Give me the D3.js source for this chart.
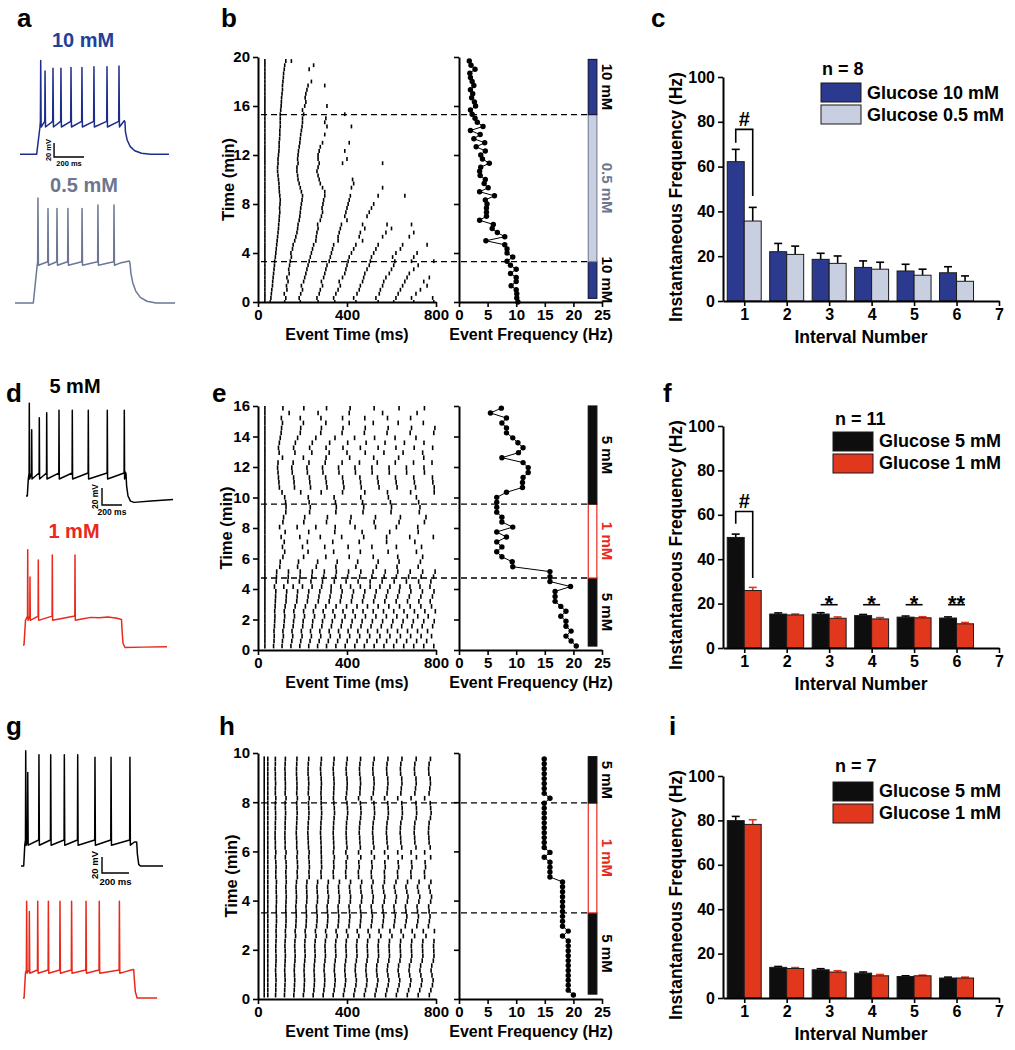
<!DOCTYPE html>
<html><head><meta charset="utf-8">
<script src="https://cdn.jsdelivr.net/npm/d3@7/dist/d3.min.js"></script>
<style>
html,body{margin:0;padding:0;background:#fff;}
svg text{font-family:"Liberation Sans",Arial,Helvetica,sans-serif;font-weight:bold;}
</style></head>
<body>
<svg id="fig" width="1015" height="1050" viewBox="0 0 1015 1050"></svg>
<script>
// ======================= DATA =======================
const panelLetters = ['a','b','c','d','e','f','g','h','i'];

// --- voltage traces (ms, mV) ---
const traceA10 = {on:111, rise:22, base:-70, trough:-31, pre:-23,
  spikes:[[138,64],[167,49],[220,53],[273,53],[340,54],[413,54],[493,55],[580,55],[660,56]],
  after:[[695,-22],[700,-24],[703,-38],[715,-50],[735,-59],[765,-65],[810,-68.5],[870,-70],[993,-70]]};
const traceA05 = {on:122, rise:26, base:-70, trough:-16, pre:-11,
  spikes:[[153,80],[220,65],[280,65],[353,65],[447,65],[553,70],[660,70]],
  after:[[700,-13],[740,-11],[762,-10],[767,-14],[773,-28],[785,-41],[805,-53],[835,-62],[880,-67.5],[940,-70],[1067,-70]]};
const traceD5 = {on:13, rise:10, base:-70, trough:-50, pre:-43,
  spikes:[[33,39],[57,8],[133,22],[207,28],[330,31],[463,31],[623,31],[813,31],[983,31]],
  after:[[995,-42],[1000,-44],[1006,-58],[1020,-70],[1045,-76],[1080,-77.5],[1250,-76],[1470,-74]]};
const traceD1 = {on:10, rise:15, base:-70, trough:-41, pre:-36,
  spikes:[[47,42],[70,10],[153,30],[293,36],[520,36]],
  after:[[600,-39],[680,-37.5],[760,-38],[850,-37],[940,-38.5],[985,-40],[992,-55],[1000,-68],[1020,-73],[1200,-72.5],[1440,-72]]};
const traceG5 = {on:20, rise:8, base:-70, trough:-44, pre:-37.5,
  spikes:[[35,74],[50,47],[133,69],[220,69],[321,69],[420,69],[548,66],[667,66],[807,66]],
  after:[[840,-40],[857,-40],[862,-55],[872,-68],[885,-70],[1052,-70]]};
const traceG1 = {on:8, rise:10, base:-70, trough:-39, pre:-35,
  spikes:[[27,51],[47,38],[109,51],[188,51],[274,51],[360,51],[467,51],[565,51],[714,51]],
  after:[[760,-37],[800,-35],[820,-34.5],[824,-45],[832,-62],[845,-70],[993,-70]]};
const traceLabelsTop = ['10 mM','0.5 mM','5 mM','1 mM'];
const scaleBarValues = {ms:200, mv:20};
const scaleBarLabels = ['20 mV','200 ms'];

// --- panel b : sweeps [time (min), event frequency (Hz)] and spike times (ms) ---
const freqB = [[0,10.3],[0.33,10.1],[0.67,10.1],[1,10.0],[1.33,9.1],[1.67,10.0],[2,10.0],[2.33,9.0],[2.67,10.0],[3,9.0],
[3.33,8.4],[3.67,9.4],[4,8.4],[4.33,8.4],[4.67,8.0],[5,4.7],[5.33,8.0],[5.67,6.7],[6,5.8],[6.33,6.0],
[6.67,3.6],[7,4.8],[7.33,4.8],[7.67,4.8],[8,4.9],[8.33,4.6],[8.67,6.2],[9,3.6],[9.33,5.1],[9.67,4.4],
[10,4.6],[10.33,3.7],[10.67,3.6],[11,3.8],[11.33,5.3],[11.67,4.1],[12,3.8],[12.33,4.6],[12.67,3.0],[13,4.5],
[13.33,2.6],[13.67,3.7],[14,2.0],[14.33,4.2],[14.67,3.2],[15,2.8],[15.33,2.3],[15.67,2.0],[16,2.9],[16.33,2.7],
[16.67,2.2],[17,2.4],[17.33,2.0],[17.67,2.6],[18,2.3],[18.33,2.0],[18.67,1.9],[19,2.8],[19.33,2.1],[19.67,1.8]];
const rasterB = [
[31,55,120,190,270,345,440,540,610,700,790],[31,58,125,185,265,340,430,530,620,690,785],[31,60,118,192,275,350,445,545,630,710],
[31,62,130,200,280,360,455,550,640,730],[31,65,128,195,290,370,460,560,650,760],[31,66,135,205,285,365,470,565,660,745],
[31,68,130,210,295,380,475,575,670,770],[31,70,140,215,300,390,480,590,680],[31,72,138,220,305,395,490,600,700],
[31,74,142,225,310,400,500,610,720],[31,75,145,230,320,405,505,615,690,790],[31,78,150,235,325,410,510,605,700],
[31,80,148,240,330,420,520,620,715],[31,82,155,245,335,430,530,640],[31,84,158,250,340,440,540,650,760],
[31,86,165,260,360,470],[31,88,170,262,360,455,560,680],[31,90,175,265,365,460,575,700],[31,92,178,270,370,480,600],
[31,93,180,268,375,470,580,690],[31,95,185,280,400],[31,96,188,285,390,490],[31,98,190,290,395,500],
[31,97,192,288,400,510],[31,99,195,292,405,520],[31,100,198,295,410],[31,98,200,300,415,540,660],[31,96,195,300],
[31,95,190,290,420,560],[31,94,185,280,430],[31,92,180,275,425],[31,90,178,270],[31,88,175,265],[31,88,175,270],
[31,90,180,275,380,560],[31,90,178,270,400],[31,92,180,270],[31,94,182,275,390],[31,95,185,280],[31,95,188,290,410],
[31,97,190],[31,98,192,300],[31,98,195],[31,100,198,310,420],[31,100,200,300],[31,100,200,305],[31,100,205,390],
[31,102,200],[31,104,210,310],[31,105,215],[31,106,212],[31,108,215],[31,110,220],[31,110,225,300],[31,112,240],
[31,114],[31,115],[31,118,230],[31,120,250],[31,125,150]];
const switchB = [3.3, 15.3];
const segB = [[0.3,3.3,'10 mM'],[3.3,15.3,'0.5 mM'],[15.3,19.8,'10 mM']];

// --- panel e ---
const freqE = [[0.26,20.5],[0.59,19.6],[0.91,18.7],[1.24,19.6],[1.56,18.7],[1.89,18.7],[2.21,17.8],[2.54,18.7],[2.86,17.8],[3.19,16.8],
[3.51,16.8],[3.84,16.8],[4.16,19.5],[4.49,15.9],[4.81,15.9],[5.14,15.9],[5.46,9.4],[5.79,9.3],[6.11,7.5],[6.44,6.6],
[6.76,7.5],[7.09,6.6],[7.41,8.3],[7.74,6.6],[8.06,9.4],[8.39,7.5],[8.71,7.5],[9.04,6.6],[9.36,6.6],[9.69,6.6],
[10.01,6.6],[10.34,8.3],[10.66,11.1],[10.99,11.1],[11.31,11.2],[11.64,12.1],[11.96,12.1],[12.29,11.2],[12.61,7.5],[12.94,10.4],
[13.26,11.2],[13.59,10.3],[13.91,9.4],[14.24,8.3],[14.56,8.3],[14.89,7.5],[15.21,8.3],[15.54,5.5],[15.86,7.4]];
const rasterE = [
[31,70,108,148,188,228,268,308,350,392,435,478,522,566,610,655,700,745,790],
[31,72,110,152,192,234,275,316,358,401,445,490,534,578,623,668,713,758],
[31,73,114,156,198,240,282,325,368,412,457,502,548,593,640,686,733,780],
[31,72,112,153,195,236,278,320,362,405,449,493,537,582,627,672,717,762],
[31,74,116,158,201,244,287,330,374,418,463,508,554,600,646,692,738,785],
[31,75,118,160,203,246,290,334,378,423,468,514,560,606,652,698,745,792],
[31,76,120,164,209,254,299,345,391,437,483,530,577,624,671,718,765],
[31,75,118,161,205,249,293,337,382,427,472,518,564,610,656,703,750,797],
[31,77,122,167,213,259,305,351,398,445,492,540,588,636,684,732,780],
[31,78,126,174,222,271,320,370,420,470,520,570,621,672,723,774],
[31,79,127,176,225,274,324,374,424,475,526,577,628,680,732,784],
[31,80,129,178,228,278,328,378,429,480,531,583,635,687,739,791],
[31,74,116,158,200,243,286,329,372,416,460,504,548,593,638,683,728,773],
[31,82,134,186,238,290,343,396,450,504,558,612,667,722,777],
[31,83,136,189,242,295,349,403,457,512,567,622,677,733,789],
[31,84,137,190,244,298,352,407,462,517,572,628,684,740,796],
[31,98,178,262,350,440,532,625,720],
[31,100,182,268,356,448,540,634,730],
[31,112,205,305,410,518,628,740],
[31,120,225,340,460,585,712],
[31,110,200,300,405,512,622,735],
[31,118,222,336,455,578,705],
[31,104,188,280,376,475,578,682,788],
[31,122,228,345,468,592,720],
[31,97,176,260,347,436,528,622,718],
[31,112,206,308,414,522,634,748],
[31,115,210,312,418,528,640,755],
[31,125,232,350,472,598,725],
[31,126,235,352,475,600,728],
[31,124,230,348,470,595,722],
[31,120,226,342,462,586,712],
[31,108,192,284,380,480,582,686,792],
[31,96,164,236,310,386,464,544,625,708,792],
[31,94,162,233,307,383,461,540,621,703,786],
[31,92,160,231,304,380,458,537,618,700,784],
[31,90,154,222,292,364,438,513,590,668,748],
[31,88,152,220,290,362,436,512,589,667,746],
[31,90,158,229,302,378,456,536,617,699,782],
[31,110,204,306,412,520,632,745],
[31,95,166,242,320,400,482,566,652,740],
[31,92,160,232,306,382,460,540,620,702,785],
[31,96,168,244,322,403,486,571,658,746],
[31,100,178,260,346,434,524,616,710],
[31,104,190,282,378,478,580,684,790],
[31,106,192,285,382,482,585,690,795],
[31,110,204,305,410,518,630,743],
[31,105,190,283,380,480,582,686],
[31,140,270,410,560,715],
[31,112,206,308,414,522,634,748]];
const switchE = [4.72, 9.57];
const segE = [[0.26,4.72,'5 mM'],[4.72,9.57,'1 mM'],[9.57,16,'5 mM']];

// --- panel h ---
const freqH = [[0.16,20.0],[0.36,19.1],[0.56,19.1],[0.76,19.1],[0.96,19.1],[1.16,19.1],[1.36,19.1],[1.56,19.1],[1.76,19.1],[1.96,19.1],
[2.16,19.1],[2.36,19.1],[2.56,18.1],[2.76,19.1],[2.96,18.1],[3.16,18.1],[3.36,18.1],[3.56,18.1],[3.76,18.1],[3.96,18.1],
[4.16,18.1],[4.36,18.1],[4.56,18.1],[4.76,18.1],[4.96,15.9],[5.16,15.9],[5.36,15.9],[5.56,15.9],[5.76,14.9],[5.96,15.9],
[6.16,14.9],[6.36,14.9],[6.56,14.9],[6.76,14.9],[6.96,14.9],[7.16,14.9],[7.36,14.9],[7.56,14.9],[7.76,14.9],[7.96,14.9],
[8.16,15.9],[8.36,14.9],[8.56,14.9],[8.76,14.9],[8.96,14.9],[9.16,14.9],[9.36,14.9],[9.56,14.9],[9.76,14.9]];
const rasterH = [
[28,44,79,119,161,204,248,293,338,384,431,478,526,574,622,671,720,770],
[28,44,80,120,163,207,251,296,342,388,435,483,531,579,628,677,727,777],
[28,44,80,121,164,208,253,299,345,392,440,488,536,585,634,684,734,784],
[28,44,81,122,165,209,254,300,347,394,442,490,539,588,637,687,737,787],
[28,44,80,121,164,208,253,299,345,392,439,487,535,584,633,682,732,782],
[28,44,79,120,163,207,252,297,343,390,437,485,533,581,630,679,728,778],
[28,44,80,121,164,208,253,298,344,391,438,486,534,583,632,681,731,781],
[28,44,81,122,166,210,255,301,347,394,442,490,539,588,638,688,738,788],
[28,44,81,123,167,212,257,303,350,397,445,493,542,591,641,691,741,791],
[28,44,80,122,166,211,256,302,349,396,444,492,541,590,640,690,740,790],
[28,44,80,121,165,210,255,301,348,395,443,491,540,589,639,689,739,789],
[28,44,81,122,166,211,257,303,350,397,445,493,542,591,641,691,741,791],
[28,44,82,124,169,214,261,308,356,404,453,502,552,602,653,704,755],
[28,44,81,123,167,212,258,304,351,398,446,495,544,593,643,693,743,793],
[28,44,82,125,170,216,263,311,360,409,459,509,560,611,662,714,766],
[28,44,83,126,171,217,265,313,362,411,461,512,563,614,666,718,770],
[28,44,83,126,172,218,266,314,363,413,463,514,565,617,669,721,773],
[28,44,82,125,171,217,264,312,361,411,461,511,562,613,665,717,769],
[28,44,82,125,170,216,263,311,360,409,459,509,560,611,663,715,767],
[28,44,83,126,172,219,267,315,365,415,465,516,567,619,671,723,776],
[28,44,83,127,173,220,268,317,366,416,467,518,570,622,674,727,780],
[28,44,82,126,172,219,266,314,363,413,463,514,565,617,669,721,774],
[28,44,82,125,171,218,265,313,362,411,461,511,562,613,665,717,769],
[28,44,83,127,173,220,268,316,366,416,466,517,568,620,672,724,777],
[28,44,80,126,177,230,284,339,395,452,510,569,628,688,749],
[28,44,80,125,176,229,283,338,394,451,509,568,627,687,748],
[28,44,81,127,178,231,286,341,397,455,513,572,632,692,753],
[28,44,80,126,177,230,285,340,396,453,511,570,630,690,751],
[28,44,78,123,175,228,285,343,402,462,523,585,648,712,776],
[28,44,80,126,177,230,284,339,395,452,510,569,628,688,749],
[28,44,78,122,174,227,284,341,400,460,521,583,646,710,774],
[28,44,78,122,174,226,283,340,398,458,518,580,642,705,769],
[28,44,77,121,173,225,282,339,397,457,517,579,641,704,768],
[28,44,77,121,172,224,281,338,396,455,515,577,639,702,766],
[28,44,78,122,173,225,282,339,397,456,516,578,640,703,767],
[28,44,78,122,174,226,283,340,398,458,518,580,642,705,769],
[28,44,79,123,175,228,285,342,401,461,522,584,647,711,775],
[28,44,79,124,176,229,286,344,403,463,524,586,649,713,778],
[28,44,78,123,175,228,285,343,402,462,523,585,648,712,776],
[28,44,78,122,174,227,284,341,400,460,521,583,646,710,774],
[28,44,80,126,177,230,284,339,395,452,510,569,628,688,749],
[28,44,78,122,174,226,283,340,398,458,518,580,642,705,769],
[28,44,78,123,175,227,284,341,400,459,520,582,644,708,772],
[28,44,79,123,175,228,285,342,401,461,522,584,647,711,775],
[28,44,78,122,174,227,284,341,400,460,521,583,646,710,774],
[28,44,78,122,173,225,282,339,397,457,517,579,641,704,768],
[28,44,77,121,173,225,281,338,396,456,516,578,640,703,767],
[28,44,78,122,174,226,283,340,398,458,518,580,642,705,769],
[28,44,78,123,175,228,285,342,401,461,522,584,647,711,775]];
const switchH = [3.5, 7.97];
const segH = [[0.2,3.5,'5 mM'],[3.5,7.97,'1 mM'],[7.97,9.85,'5 mM']];

const rasterXTicks = [0,400,800];
const freqXTicks = [0,5,10,15,20,25];
const timeTicksB = [0,4,8,12,16,20];
const timeTicksE = [0,2,4,6,8,10,12,14,16];
const timeTicksH = [0,2,4,6,8,10];

// --- bar charts: mean instantaneous frequency (Hz) with SEM ---
const intervals = [1,2,3,4,5,6];
const barXTicks = [1,2,3,4,5,6,7];
const barYTicks = [0,20,40,60,80,100];
const c10 = [62.2,22.0,18.6,15.0,13.4,12.6], c10err = [5.5,3.7,2.7,2.9,3.0,2.7];
const c05 = [35.7,20.8,16.8,14.2,11.5,8.8],  c05err = [6.1,3.7,3.3,3.1,2.7,2.4];
const f5  = [49.8,15.3,15.3,14.6,13.9,13.5], f5err  = [1.5,0.5,0.6,0.5,0.5,0.5];
const f1  = [25.9,14.9,13.4,13.1,13.6,10.9], f1err  = [1.4,0.4,0.6,0.6,0.5,0.6];
const i5  = [79.9,13.8,12.7,11.2,9.7,9.0],   i5err  = [1.9,0.4,0.5,0.5,0.3,0.4];
const i1  = [78.2,13.3,11.7,10.0,10.0,9.0],  i1err  = [2.1,0.4,0.6,0.6,0.3,0.4];
const legendC = ['Glucose 10 mM','Glucose 0.5 mM'], nC = 'n = 8';
const legendF = ['Glucose 5 mM','Glucose 1 mM'],    nF = 'n = 11';
const legendI = ['Glucose 5 mM','Glucose 1 mM'],    nI = 'n = 7';
const bracketC = {k:1, top:76.6, left:70.7, right:46.9, label:'#'};
const bracketF = {k:1, top:61.5, left:56.0, right:31.5, label:'#'};
const starsF = [[3,19.5,'*'],[4,19.5,'*'],[5,19.5,'*'],[6,19.5,'**']];

// ======================= STYLE / LAYOUT =======================
const COL = {navy:'#2b3a8f', light:'#c8cfe1', blk:'#0e0e0e', red:'#e0371d', redTrace:'#e8291c',
  blueTrace:'#1e2d8c', grayTrace:'#6c7793', blueText:'#22409a', grayText:'#6d7690'};
const letterPos = [[17,27],[221,27],[651,27],[6,402],[212,402],[663,402],[6,735],[219,735],[669,735]];
const segStyle = {
  b:[{fill:COL.navy,stroke:'#161a40',label:'#000'},{fill:COL.light,stroke:'#7d869c',label:COL.grayText},{fill:COL.navy,stroke:'#161a40',label:'#000'}],
  e:[{fill:COL.blk,stroke:COL.blk,label:'#000'},{fill:'#fff',stroke:COL.redTrace,label:COL.redTrace},{fill:COL.blk,stroke:COL.blk,label:'#000'}]
};
segStyle.h = segStyle.e;

// ======================= DRAWING =======================
const svg = d3.select('#fig');
svg.append('rect').attr('width',1015).attr('height',1050).attr('fill','#fff');

function txt(x,y,s,size,o={}){
  const t = svg.append('text').attr('x',x).attr('y',y).text(s).attr('font-size',size)
    .attr('text-anchor',o.anchor||'start').attr('fill',o.fill||'#000');
  if(o.rotate!==undefined) t.attr('transform',`rotate(${o.rotate},${x},${y})`);
  return t;
}
function styleAxis(g,fs){
  g.selectAll('.domain').attr('stroke','#000').attr('stroke-width',2);
  g.selectAll('.tick line').attr('stroke','#000').attr('stroke-width',1.6);
  g.selectAll('.tick text').attr('font-size',fs).attr('fill','#000')
   .attr('font-family','"Liberation Sans",Arial,sans-serif').attr('font-weight','bold');
}

// panel letters
panelLetters.forEach((l,i)=>txt(letterPos[i][0],letterPos[i][1],l,26));

// traces
function traceVertices(s){
  const v=[[0,s.base],[s.on,s.base],[s.on+s.rise,s.trough]];
  s.spikes.forEach(([t,pk])=>{v.push([t-2,s.pre],[t,pk],[t+3,s.trough]);});
  s.after.forEach(p=>v.push(p));
  return v;
}
function drawTrace(spec,L,color){
  const x=d3.scaleLinear().domain([0,1000]).range([L.x0,L.x0+1000*L.pxMs]);
  const y=d3.scaleLinear().domain([-70,30]).range([L.yb,L.yb-100*L.pxMv]);
  svg.append('path').attr('d',d3.line().x(d=>x(d[0])).y(d=>y(d[1]))(traceVertices(spec)))
    .attr('fill','none').attr('stroke',color).attr('stroke-width',1.5).attr('stroke-linejoin','round');
  return {x,y};
}
function drawScaleBar(sc,at,fs,lab){
  const x0=sc.x(at[0]), y0=sc.y(at[1]);
  const x1=sc.x(at[0]+scaleBarValues.ms), yTop=sc.y(at[1]+scaleBarValues.mv);
  svg.append('path').attr('d',`M${x0},${yTop}V${y0}H${x1}`).attr('fill','none').attr('stroke','#000').attr('stroke-width',1.4);
  txt(x0-lab[0],(y0+yTop)/2,scaleBarLabels[0],fs,{anchor:'middle',rotate:-90});
  txt((x0+x1)/2,y0+lab[1],scaleBarLabels[1],fs,{anchor:'middle'});
}
const sA1=drawTrace(traceA10,{x0:20,yb:154.3,pxMs:0.15,pxMv:0.7},COL.blueTrace);
drawTrace(traceA05,{x0:15,yb:303,pxMs:0.15,pxMv:0.7},COL.grayTrace);
drawScaleBar(sA1,[227,-73.9],7.5,[3.5,9]);
txt(83,47,traceLabelsTop[0],20,{anchor:'middle',fill:COL.blueText});
txt(84,192,traceLabelsTop[1],20,{anchor:'middle',fill:COL.grayText});

const sD=drawTrace(traceD5,{x0:26,yb:496,pxMs:0.1,pxMv:0.85},'#000');
drawTrace(traceD1,{x0:23,yb:645,pxMs:0.1,pxMv:0.85},COL.redTrace);
drawScaleBar(sD,[760,-80.6],8.5,[3.5,10]);
txt(75,393,traceLabelsTop[2],20,{anchor:'middle'});
txt(74,538,traceLabelsTop[3],20,{anchor:'middle',fill:COL.redTrace});

const sG=drawTrace(traceG5,{x0:21,yb:866,pxMs:0.135,pxMv:0.8},'#000');
drawTrace(traceG1,{x0:23,yb:998,pxMs:0.135,pxMv:0.8},COL.redTrace);
drawScaleBar(sG,[600,-78.75],9.5,[4.5,12]);

// raster + frequency panels
function drawRasterPanel(freq,raster,yMax,yTicks,switches,segs,styles,L){
  const y=d3.scaleLinear().domain([0,yMax]).range([L.y0,L.y1]);
  const xR=d3.scaleLinear().domain([0,800]).range([258,436]);
  const xF=d3.scaleLinear().domain([0,25]).range([459,602]);
  const dt=(freq[freq.length-1][0]-freq[0][0])/(freq.length-1);
  const g=svg.append('g');
  raster.forEach((sw,i)=>{
    const t=freq[i][0];
    sw.forEach((s,j)=>{
      const h=j===0?0.52:0.47;
      const a=Math.max(0,t-dt*h), b=Math.min(yMax,t+dt*h);
      g.append('line').attr('x1',xR(s)).attr('x2',xR(s)).attr('y1',y(a)).attr('y2',y(b))
        .attr('stroke','#000').attr('stroke-width',1.6);
    });
  });
  // solution bar
  const barLo=22.6, barHi=24.1;
  segs.forEach((sg,i)=>{
    const st=styles[i];
    svg.append('rect').attr('x',xF(barLo)).attr('width',xF(barHi)-xF(barLo))
      .attr('y',y(sg[1])).attr('height',y(sg[0])-y(sg[1]))
      .attr('fill',st.fill).attr('stroke',st.stroke).attr('stroke-width',1.2);
    txt(607,(y(sg[0])+y(sg[1]))/2,sg[2],15,{anchor:'middle',rotate:90,fill:st.label}).attr('dy','0.35em');
  });
  // dashed switch lines
  switches.forEach(t=>{
    svg.append('line').attr('x1',xR(0)+3).attr('x2',xF(barLo)).attr('y1',y(t)).attr('y2',y(t))
      .attr('stroke','#000').attr('stroke-width',1.3).attr('stroke-dasharray','6,4');
  });
  // freq line + dots
  svg.append('path').attr('d',d3.line().x(d=>xF(d[1])).y(d=>y(d[0]))(freq))
    .attr('fill','none').attr('stroke','#000').attr('stroke-width',1);
  svg.append('g').selectAll('circle').data(freq).join('circle')
    .attr('cx',d=>xF(d[1])).attr('cy',d=>y(d[0])).attr('r',2.7).attr('fill','#000');
  // axes
  const ay=svg.append('g').attr('transform','translate(258,0)')
    .call(d3.axisLeft(y).tickValues(yTicks).tickSize(5).tickSizeOuter(0).tickPadding(3));
  styleAxis(ay,15);
  const ax=svg.append('g').attr('transform',`translate(0,${L.y0})`)
    .call(d3.axisBottom(xR).tickValues(rasterXTicks).tickSize(5).tickSizeOuter(0).tickPadding(2));
  styleAxis(ax,15);
  const fy=svg.append('g').attr('transform','translate(459,0)')
    .call(d3.axisLeft(y).tickValues(yTicks).tickSize(5).tickSizeOuter(0).tickFormat(''));
  styleAxis(fy,15);
  const fx=svg.append('g').attr('transform',`translate(0,${L.y0})`)
    .call(d3.axisBottom(xF).tickValues(freqXTicks).tickSize(5).tickSizeOuter(0).tickPadding(2));
  styleAxis(fx,15);
  txt(L.tx,(L.y0+L.y1)/2,'Time (min)',16.5,{anchor:'middle',rotate:-90}).attr('dy','0.35em');
  txt(347,L.y0+38,'Event Time (ms)',16,{anchor:'middle'});
  txt(531,L.y0+38,'Event Frequency (Hz)',16,{anchor:'middle'});
}
drawRasterPanel(freqB,rasterB,20,timeTicksB,switchB,segB,segStyle.b,{y0:302,y1:57,tx:228});
drawRasterPanel(freqE,rasterE,16,timeTicksE,switchE,segE,segStyle.e,{y0:650,y1:406,tx:226});
drawRasterPanel(freqH,rasterH,10,timeTicksH,switchH,segH,segStyle.h,{y0:999,y1:753,tx:231});

// bar charts
function drawBarPanel(A,Aerr,B,Berr,cols,errCols,labels,nTxt,bracket,stars,L){
  const x=d3.scaleLinear().domain([0.5,7]).range([723,999]);
  const y=d3.scaleLinear().domain([0,100]).range([L.y0,L.y1]);
  const w=0.4;
  const g=svg.append('g');
  [[A,Aerr,-w,0],[B,Berr,0,1]].forEach(([vals,errs,off,si])=>{
    vals.forEach((v,i)=>{
      const k=intervals[i], cx=x(k+off+w/2);
      g.append('line').attr('x1',cx).attr('x2',cx).attr('y1',y(v)).attr('y2',y(v+errs[i]))
        .attr('stroke',errCols[si]).attr('stroke-width',1.6);
      g.append('line').attr('x1',cx-4).attr('x2',cx+4).attr('y1',y(v+errs[i])).attr('y2',y(v+errs[i]))
        .attr('stroke',errCols[si]).attr('stroke-width',1.6);
      g.append('rect').attr('x',x(k+off)).attr('width',x(k+off+w)-x(k+off))
        .attr('y',y(v)).attr('height',y(0)-y(v)).attr('fill',cols[si]).attr('stroke','#1a1a1a').attr('stroke-width',1);
    });
  });
  if(bracket){
    const xl=x(bracket.k-w/2), xr=x(bracket.k+w/2);
    g.append('path').attr('d',`M${xl},${y(bracket.left)}V${y(bracket.top)}H${xr}V${y(bracket.right)}`)
      .attr('fill','none').attr('stroke','#000').attr('stroke-width',1.6);
    txt((xl+xr)/2,y(bracket.top)-3,bracket.label,20,{anchor:'middle'});
  }
  (stars||[]).forEach(([k,v,lab])=>{
    g.append('line').attr('x1',x(k-w/2)).attr('x2',x(k+w/2)).attr('y1',y(v)).attr('y2',y(v))
      .attr('stroke','#000').attr('stroke-width',1.6);
    txt(x(k),y(v)+6,lab,22,{anchor:'middle'});
  });
  const ay=svg.append('g').attr('transform','translate(723,0)')
    .call(d3.axisLeft(y).tickValues(barYTicks).tickSize(5).tickSizeOuter(0).tickPadding(3).tickFormat(d3.format('d')));
  styleAxis(ay,16);
  const ax=svg.append('g').attr('transform',`translate(0,${L.y0})`)
    .call(d3.axisBottom(x).tickValues(barXTicks).tickSize(5).tickSizeOuter(0).tickPadding(3).tickFormat(d3.format('d')));
  styleAxis(ax,16);
  txt(676,(L.y0+L.y1)/2+8,'Instantaneous Frequency (Hz)',17.5,{anchor:'middle',rotate:-90}).attr('dy','0.35em');
  txt(861,L.y0+42,'Interval Number',17.5,{anchor:'middle'});
  // legend
  const lg=L.leg;
  txt(lg.nx,lg.ny,nTxt,18);
  [0,1].forEach(r=>{
    svg.append('rect').attr('x',lg.bx).attr('y',lg.by+r*22).attr('width',40).attr('height',19)
      .attr('fill',cols[r]).attr('stroke','#1a1a1a').attr('stroke-width',1);
    txt(lg.lx,lg.ly+r*22,labels[r],18);
  });
}
drawBarPanel(c10,c10err,c05,c05err,[COL.navy,COL.light],['#000','#000'],legendC,nC,bracketC,null,
  {y0:301,y1:77,leg:{nx:822,ny:75,bx:821,by:83,lx:867,ly:99}});
drawBarPanel(f5,f5err,f1,f1err,[COL.blk,COL.red],['#000',COL.red],legendF,nF,bracketF,starsF,
  {y0:648,y1:426,leg:{nx:835,ny:425,bx:833,by:432,lx:879,ly:447}});
drawBarPanel(i5,i5err,i1,i1err,[COL.blk,COL.red],['#000',COL.red],legendI,nI,null,null,
  {y0:998,y1:776,leg:{nx:835,ny:772,bx:833,by:782,lx:879,ly:797}});
</script>
</body></html>
